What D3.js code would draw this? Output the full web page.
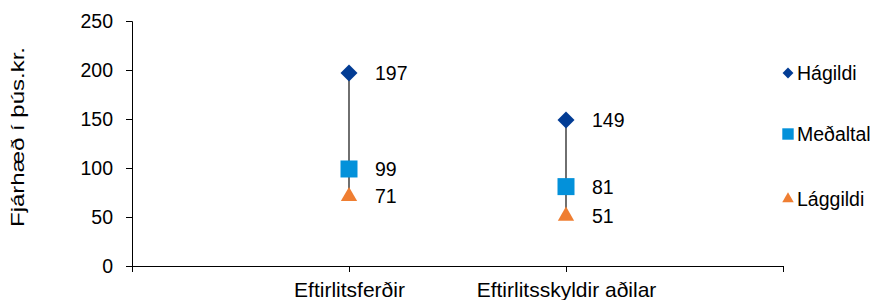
<!DOCTYPE html>
<html>
<head>
<meta charset="utf-8">
<script src="https://cdn.jsdelivr.net/npm/d3@7"></script>
<style>
  body { margin: 0; background: #fff; }
  text { font-family: "Liberation Sans", Arial, sans-serif; fill: #000; }
</style>
</head>
<body>
<div id="chart"></div>
<script>
// Data
var categories = ["Eftirlitsferðir", "Eftirlitsskyldir aðilar"];
var hagildi = [197, 149];
var medaltal = [99, 81];
var laggildi = [71, 51];
var yTicks = [0, 50, 100, 150, 200, 250];
var seriesNames = ["Hágildi", "Meðaltal", "Lággildi"];
var seriesColors = ["#023C94", "#0391DA", "#EF7E32"];

var svgWidth = 879;
var svgHeight = 300;

var svg = d3.select("#chart")
    .append("svg")
    .attr("width", svgWidth)
    .attr("height", svgHeight);

// Excel style: categories sit on tick marks, first and last slot empty
var xScale = d3.scalePoint()
    .domain(["_a"].concat(categories).concat(["_b"]))
    .range([132, 783]);

var yScale = d3.scaleLinear()
    .domain([0, 250])
    .range([266, 21]);

// y axis
var leftAxis = d3.axisLeft(yScale)
    .tickValues(yTicks)
    .tickSize(6)
    .tickPadding(13);

var gy = svg.append("g")
    .attr("transform", "translate(132,0)")
    .call(leftAxis);
gy.select(".domain").attr("stroke", "#000").attr("stroke-width", 1);
gy.selectAll(".tick line").attr("stroke", "#000");
gy.selectAll(".tick text")
    .style("font-size", "19.5px")
    .style("font-family", "Liberation Sans, Arial, sans-serif");

// x axis
var bottomAxis = d3.axisBottom(xScale)
    .tickSize(6)
    .tickSizeOuter(0)
    .tickPadding(10)
    .tickFormat(function(d) { return d.charAt(0) === "_" ? "" : d; });

var gx = svg.append("g")
    .attr("transform", "translate(0,266)")
    .call(bottomAxis);
gx.select(".domain").attr("stroke", "#000").attr("stroke-width", 1);
gx.selectAll(".tick line").attr("stroke", "#000");
gx.selectAll(".tick text")
    .style("font-size", "21px")
    .style("font-family", "Liberation Sans, Arial, sans-serif");

// y axis title
svg.append("text")
    .attr("transform", "translate(24,137) rotate(-90)")
    .style("text-anchor", "middle")
    .style("font-size", "18px")
    .attr("textLength", 180)
    .attr("lengthAdjust", "spacingAndGlyphs")
    .text("Fjárhæð í þús.kr.");

// high-low lines
svg.selectAll(".hl")
    .data(categories)
    .enter()
    .append("line")
    .attr("x1", function(d) { return xScale(d); })
    .attr("x2", function(d) { return xScale(d); })
    .attr("y1", function(d, i) { return yScale(hagildi[i]); })
    .attr("y2", function(d, i) { return yScale(laggildi[i]); })
    .attr("stroke", "#333")
    .attr("stroke-width", 1.4);

var series = [hagildi, medaltal, laggildi];
var symbols = [
    d3.symbol().type(d3.symbolDiamond2).size(184),
    d3.symbol().type(d3.symbolSquare).size(289),
    d3.symbol().type(d3.symbolTriangle2).size(190)
];
var legendSymbols = [
    d3.symbol().type(d3.symbolDiamond2).size(75),
    d3.symbol().type(d3.symbolSquare).size(130),
    d3.symbol().type(d3.symbolTriangle2).size(95)
];

series.forEach(function(vals, s) {
    svg.selectAll(".m" + s)
        .data(vals)
        .enter()
        .append("path")
        .attr("d", symbols[s])
        .attr("transform", function(d, i) {
            return "translate(" + xScale(categories[i]) + "," + yScale(d) + ")";
        })
        .attr("fill", seriesColors[s]);

    svg.selectAll(".v" + s)
        .data(vals)
        .enter()
        .append("text")
        .attr("x", function(d, i) { return xScale(categories[i]) + 26; })
        .attr("y", function(d) { return yScale(d); })
        .attr("dy", "0.36em")
        .style("font-size", "19.5px")
        .text(function(d) { return d; });
});

// legend
var legendY = [73, 134, 199];
var legend = svg.selectAll(".legend")
    .data(seriesNames)
    .enter()
    .append("g")
    .attr("transform", function(d, i) { return "translate(788," + legendY[i] + ")"; });

legend.append("path")
    .attr("d", function(d, i) { return legendSymbols[i](); })
    .attr("fill", function(d, i) { return seriesColors[i]; });

legend.append("text")
    .attr("x", 9)
    .attr("dy", "0.36em")
    .style("font-size", "19.5px")
    .text(function(d) { return d; });
</script>
</body>
</html>
